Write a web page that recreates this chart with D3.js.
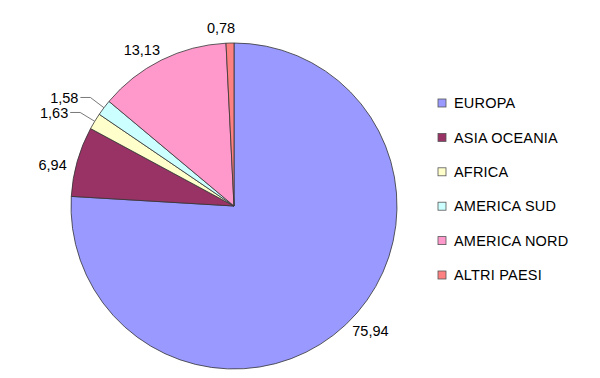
<!DOCTYPE html>
<html>
<head>
<meta charset="utf-8">
<script src="https://cdn.jsdelivr.net/npm/d3@7"></script>
<style>
  body { margin: 0; background: #fff; }
  text { font-family: "Liberation Sans", Arial, sans-serif; fill: #000; }
</style>
</head>
<body>
<div id="chart"></div>
<script>
// Data
const categories = ["EUROPA", "ASIA OCEANIA", "AFRICA", "AMERICA SUD", "AMERICA NORD", "ALTRI PAESI"];
const values = [75.94, 6.94, 1.63, 1.58, 13.13, 0.78];
const colors = ["#9999ff", "#993366", "#ffffcc", "#ccffff", "#ff99cc", "#ff8080"];

const dataset = categories.map((c, i) => ({ name: c, value: values[i], color: colors[i] }));
const formatValue = (v) => d3.format(".2f")(v).replace(".", ",");

// Dimensions
const dimensions = { width: 600, height: 378 };
const cx = 234, cy = 206, radius = 163;
const fontSize = 14.5;

const wrapper = d3
  .select("#chart")
  .append("svg")
  .attr("width", dimensions.width)
  .attr("height", dimensions.height);

const bounds = wrapper.append("g").attr("transform", `translate(${cx},${cy})`);

// Pie
const pie = d3.pie().sort(null).value((d) => d.value);
const arcs = pie(dataset);
const arcGenerator = d3.arc().innerRadius(0).outerRadius(radius);

bounds
  .selectAll("path")
  .data(arcs)
  .enter()
  .append("path")
  .attr("d", arcGenerator)
  .attr("fill", (d) => d.data.color)
  .attr("stroke", "#333")
  .attr("stroke-width", 0.8);

// Labels
const midAngle = (d) => (d.startAngle + d.endAngle) / 2;
const pt = (a, r) => [Math.sin(a) * r, -Math.cos(a) * r];
// small slices on the side get a leader line, the ones near the top have room
const needsLeader = (d) => d.data.value < 2 && Math.abs(Math.sin(midAngle(d))) > 0.5;

arcs.forEach((d) => {
  const a = midAngle(d);
  const label = formatValue(d.data.value);
  if (needsLeader(d)) {
    // leader line: edge -> elbow -> horizontal
    const p0 = pt(a, radius);
    const p1 = pt(a, 180);
    const p2 = [p1[0] - 10, p1[1]];
    bounds
      .append("polyline")
      .attr("points", [p0, p1, p2].map((p) => p.join(",")).join(" "))
      .attr("fill", "none")
      .attr("stroke", "#555")
      .attr("stroke-width", 0.8);
    bounds
      .append("text")
      .attr("x", p2[0] - 2)
      .attr("y", p2[1])
      .attr("dy", "0.35em")
      .attr("text-anchor", "end")
      .style("font-size", `${fontSize}px`)
      .text(label);
  } else {
    const la = a - 0.045;
    const w = label.length * 7.2;
    const h = 14;
    const p = pt(la, radius + 9);
    const x = p[0] + Math.sin(la) * w / 2;
    const y = p[1] - Math.cos(la) * h / 2;
    bounds
      .append("text")
      .attr("x", x)
      .attr("y", y)
      .attr("dy", "0.35em")
      .attr("text-anchor", "middle")
      .style("font-size", `${fontSize}px`)
      .text(label);
  }
});

// Legend
const legendY = d3.scalePoint().domain(categories).range([103, 275]);
const legend = wrapper
  .append("g")
  .selectAll("g")
  .data(dataset)
  .enter()
  .append("g")
  .attr("transform", (d) => `translate(438,${legendY(d.name)})`);

legend
  .append("rect")
  .attr("x", 0)
  .attr("y", -4)
  .attr("width", 8)
  .attr("height", 8)
  .attr("fill", (d) => d.color)
  .attr("stroke", "#555")
  .attr("stroke-width", 0.8);

legend
  .append("text")
  .attr("x", 16)
  .attr("y", 0)
  .attr("dy", "0.36em")
  .style("font-size", `${fontSize}px`)
  .style("letter-spacing", "0.2px")
  .text((d) => d.name);
</script>
</body>
</html>
